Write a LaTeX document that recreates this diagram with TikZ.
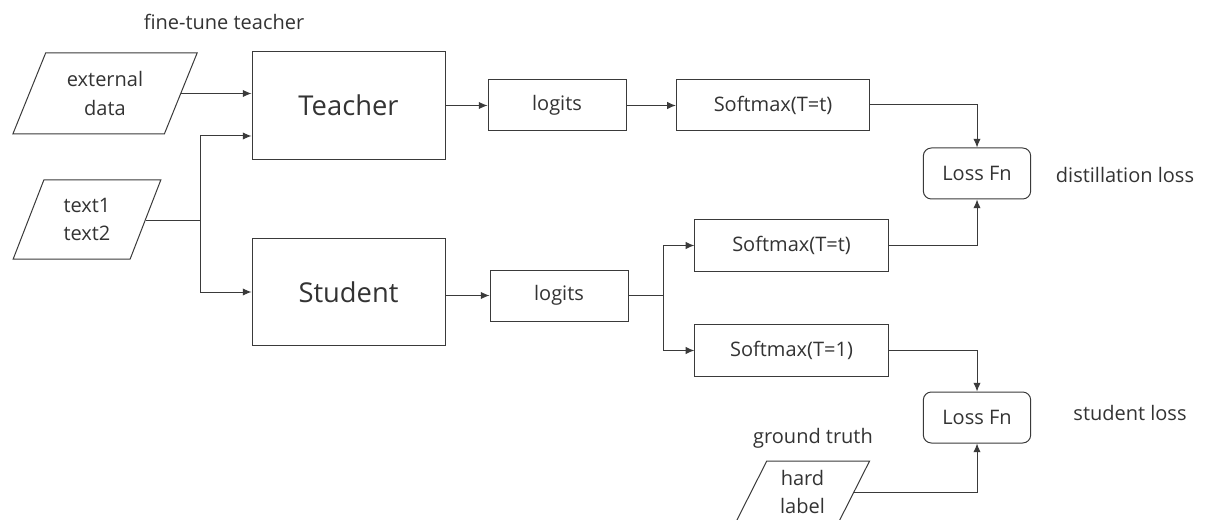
\documentclass[tikz,border=0pt]{standalone}
\usepackage{fontspec}
\setmainfont{Open Sans}
\usepackage{tikz}
\usetikzlibrary{arrows.meta,shapes.geometric}
\definecolor{linegray}{HTML}{3A3A3A}
\definecolor{txtgray}{HTML}{333333}

\begin{document}
\begin{tikzpicture}[x=0.75pt, y=-0.75pt, line width=0.75pt, color=linegray,
  every node/.style={text=txtgray, font=\fontsize{15}{21.5}\selectfont},
  block/.style={draw, rectangle, minimum width=144.75pt, minimum height=80.5pt, font=\fontsize{20.5}{24}\selectfont},
  small/.style={draw, rectangle, minimum width=103.5pt, minimum height=38.25pt},
  soft/.style={draw, rectangle, minimum width=145pt, minimum height=38.5pt},
  loss/.style={draw, rectangle, rounded corners=6pt, minimum width=80.5pt, minimum height=38.25pt},
  data/.style={draw, trapezium, trapezium stretches=true, inner sep=1pt, align=center},
  flow/.style={-{Latex[length=6.5pt,width=5.5pt]}}]
\useasboundingbox (0,0) rectangle (1209,520);
%%%%% Inputs %%%%%
\node[data, trapezium left angle=65, trapezium right angle=115, minimum width=139.5pt, minimum height=60.75pt] (ext) at (105,93.5) {external\\data};
\node[data, trapezium left angle=69, trapezium right angle=111, minimum width=111pt, minimum height=59.25pt] (txt) at (87,219.5) {text1\\text2};
\node[data, trapezium left angle=66, trapezium right angle=114, minimum width=101.25pt, minimum height=46.5pt] (hard) at (802.5,492) {hard\\label};
%%%%% Models %%%%%
\node[block] (teacher) at (348.5,105.5) {Teacher};
\node[block] (student) at (348.5,292) {Student};
\node[small] (tlog) at (557,105.5) {logits};
\node[small] (slog) at (559,295.5) {logits};
\node[soft] (tsoft) at (773,105) {Softmax(T=t)};
\node[soft] (ssoft) at (791.5,245.5) {Softmax(T=t)};
\node[soft] (hsoft) at (791.5,350.5) {Softmax(T=1)};
\node[loss] (dloss) at (977,173.5) {Loss Fn};
\node[loss] (sloss) at (977,417.5) {Loss Fn};
%%%%% Labels %%%%%
\node (ftlab) at (224,22) {fine-tune teacher};
\node (dlab) at (1125,175) {distillation loss};
\node (slab) at (1130,413) {student loss};
\node (gtlab) at (813,438) {ground truth};
%%%%% Arrows %%%%%
\coordinate (split) at (200,221);
\coordinate (fork) at (663,295.5);
\draw[flow] (ext.east) -- (ext.east -| teacher.west);
\draw (txt.east |- split) -- (split);
\draw[flow] (split) |- (teacher.west |- 0,136);
\draw[flow] (split) |- (student.west);
\draw[flow] (teacher.east) -- (tlog.west);
\draw[flow] (tlog.east) -- (tlog.east -| tsoft.west);
\draw[flow] (tsoft.east) -| (dloss.north);
\draw[flow] (ssoft.east) -| (dloss.south);
\draw[flow] (slog.west -| student.east) -- (slog.west);
\draw (slog.east) -- (fork);
\draw[flow] (fork) |- (ssoft.west);
\draw[flow] (fork) |- (hsoft.west);
\draw[flow] (hsoft.east) -| (sloss.north);
\draw[flow] (hard.east) -| (sloss.south);
\end{tikzpicture}
\end{document}
